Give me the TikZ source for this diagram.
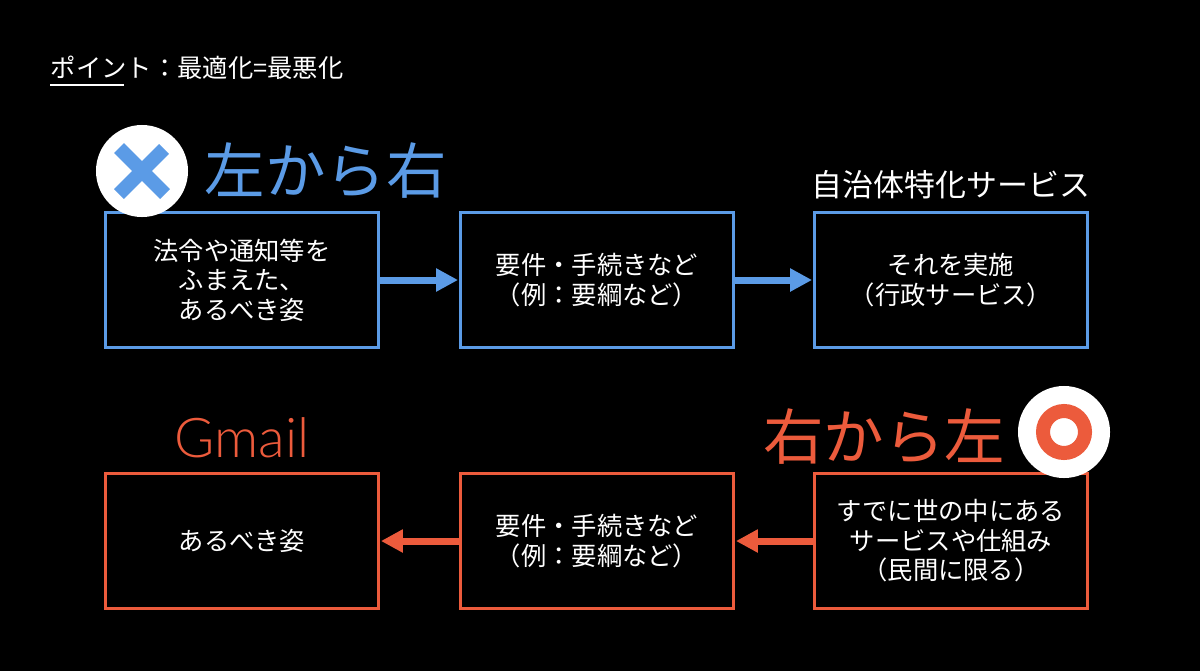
\documentclass[tikz,border=0pt]{standalone}
\usepackage{fontspec}
\setmainfont{Noto Sans CJK JP}
\newfontfamily\gmailfont{Lato}[UprightFont=* Light]
\usetikzlibrary{arrows.meta}
\definecolor{flowblue}{HTML}{5B9BE6}
\definecolor{floworange}{HTML}{EC5B3C}

\begin{document}
\begin{tikzpicture}[x=0.025cm,y=-0.025cm,
  >={Triangle[length=0.55cm,width=0.55cm]},shorten >=1pt,
  main box/.style={draw,line width=0.075cm,minimum width=6.8cm,minimum height=3.375cm,
    text=white,align=center,font=\fontsize{18}{21}\selectfont},
  blue box/.style={main box,draw=flowblue},
  orange box/.style={main box,draw=floworange},
  flow/.style={->,line width=0.175cm},
  heading/.style={font=\fontsize{43}{43}\selectfont},
  badge/.style={circle,fill=white,minimum size=2.3cm,inner sep=0pt}]

  \fill[black] (0,0) rectangle (1200,671);
  \useasboundingbox (0,0) rectangle (1200,671);

  \node[text=white,anchor=west,font=\fontsize{18}{18}\selectfont] (title) at (46,68) {ポイント：最適化=最悪化};
  \draw[white,line width=1pt] (50,85) -- (125,85);

  \node[blue box] (law) at (242,280) {法令や通知等を\\ふまえた、\\あるべき姿};
  \node[blue box] (req) at (597,280) {要件・手続きなど\\（例：要綱など）};
  \node[blue box] (serve) at (951,280) {それを実施\\（行政サービス）};

  \node[orange box] (ideal) at (242,541) {あるべき姿};
  \node[orange box] (req2) at (597,541) {要件・手続きなど\\（例：要綱など）};
  \node[orange box] (exist) at (951,541) {すでに世の中にある\\サービスや仕組み\\（民間に限る）};

  \node[badge] (ng) at (142,171) {};
  \draw[flowblue,line width=0.35cm] (ng.center) +(-23,-23) -- +(23,23)
    (ng.center) +(-23,23) -- +(23,-23);
  \node[heading,text=flowblue,anchor=west] (ltr) at (200,171) {左から右};

  \node[badge] (ok) at (1064,432) {};
  \draw[floworange,line width=0.35cm] (ok.center) circle[radius=21];
  \node[heading,text=floworange,anchor=east] (rtl) at (1010,437) {右から左};

  \node[text=white,font=\fontsize{22}{22}\selectfont] (local) at (951,185) {自治体特化サービス};
  \node[text=floworange,font=\gmailfont\fontsize{39}{39}\selectfont] (gmail) at (242,438) {Gmail};

  \path
    (law) edge[flow,flowblue] (req)
    (req) edge[flow,flowblue] (serve)
    (exist) edge[flow,floworange] (req2)
    (req2) edge[flow,floworange] (ideal)
    ;
\end{tikzpicture}
\end{document}
